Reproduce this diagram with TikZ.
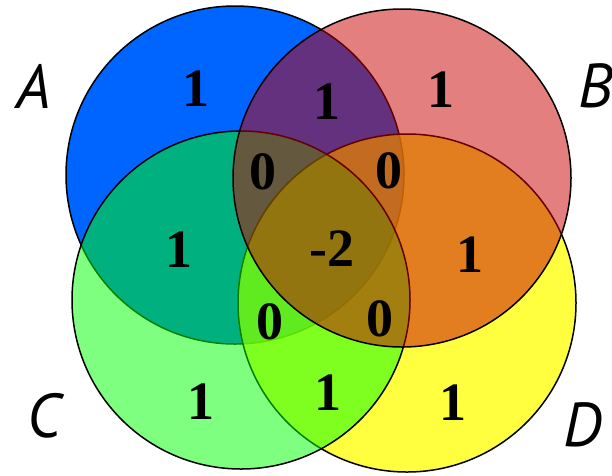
\documentclass[tikz,border=0pt]{standalone}
\usepackage{fontspec}
\usepackage{tikz}
\usetikzlibrary{positioning}
\usepackage{xcolor}
\newfontfamily\numfont{Liberation Serif}
\newfontfamily\setfont{PT Sans}
\definecolor{setBlue}{RGB}{0,100,255}
\definecolor{setRed}{RGB}{200,0,0}
\definecolor{setGreen}{RGB}{0,255,0}
\definecolor{setYellow}{RGB}{255,255,0}
\tikzset{
    % Sets
    set/.style={draw=black, line width=1.5pt},
    setA/.style={set, fill=setBlue},
    setB/.style={set, fill=setRed, fill opacity=0.5},
    setC/.style={set, fill=setGreen, fill opacity=0.5},
    setD/.style={set, fill=setYellow, fill opacity=0.75},
    % Labels
    val/.style={inner sep=0pt, font=\numfont\bfseries\fontsize{54}{54}\selectfont},
    setname/.style={inner sep=0pt, font=\setfont\itshape\fontsize{62}{62}\selectfont}
}

\begin{document}
\begin{tikzpicture}[x=1pt, y=-1pt]
\useasboundingbox (0,0) rectangle (612,475);

% circles, back to front
\draw[setA] (235,175) circle[radius=169pt];
\draw[setD] (407,303) circle[radius=169pt];
\draw[setC] (241,300) circle[radius=169pt];
\draw[setB] (402,178) circle[radius=169pt];

% set names
\node[setname] (nameA) at (34,86) {A};
\node[setname] (nameB) at (596,86) {B};
\node[setname] (nameC) at (44,416) {C};
\node[setname] (nameD) at (583,425) {D};

% region values
\node[val] (a)    at (196,89)  {1};
\node[val] (ab)   at (327,102) {1};
\node[val] (b)    at (441,90)  {1};
\node[val] (abc)  at (263,172) {0};
\node[val] (abd)  at (389,171) {0};
\node[val] (ac)   at (179,250) {1};
\node[val] (abcd) at (332,249) {-2};
\node[val] (bd)   at (470,255) {1};
\node[val] (acd)  at (270,322) {0};
\node[val] (bcd)  at (380,319) {0};
\node[val] (c)    at (201,402) {1};
\node[val] (cd)   at (328,393) {1};
\node[val] (d)    at (453,403) {1};

\end{tikzpicture}
\end{document}
